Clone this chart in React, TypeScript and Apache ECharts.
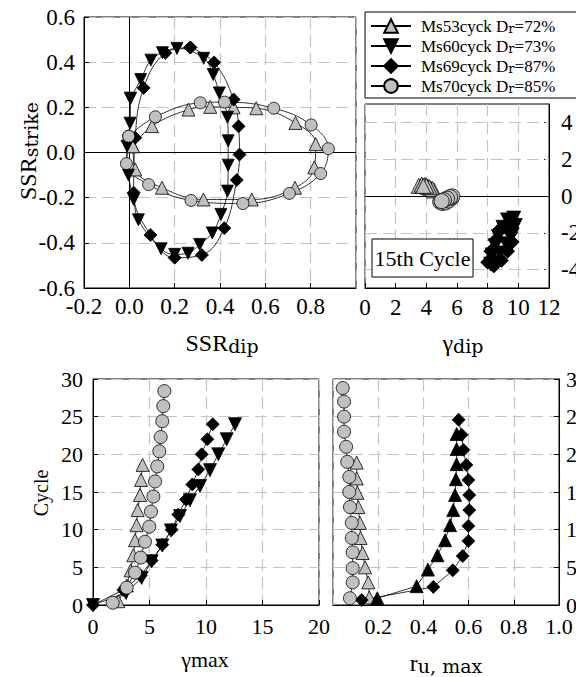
import React, { useEffect, useRef } from 'react';
import * as echarts from 'echarts';

const SERIF = 'Liberation Serif';
const SUB = 'DejaVu Serif';

// Samples and their relative densities (%)
const sampleNames = ['Ms53cyck', 'Ms60cyck', 'Ms69cyck', 'Ms70cyck'];
const relativeDensity = [72, 73, 87, 85];

// Stress ratio paths: [SSR_dip, SSR_strike]
const ssrMs53 = [[0.016, 0.028], [0.026, -0.075], [0.144, -0.156], [0.327, -0.208], [0.54, -0.208], [0.731, -0.156], [0.816, -0.066], [0.822, 0.037], [0.733, 0.131], [0.56, 0.196], [0.46, 0.2], [0.357, 0.202], [0.261, 0.19], [0.1, 0.117]];
const ssrMs60 = [[0.005, 0.24], [0.003, 0.13], [-0.01, 0.028], [-0.004, -0.1], [0.019, -0.208], [0.04, -0.298], [0.14, -0.426], [0.2, -0.451], [0.259, -0.446], [0.31, -0.407], [0.366, -0.356], [0.404, -0.274], [0.433, -0.171], [0.436, -0.056], [0.436, 0.052], [0.433, 0.156], [0.397, 0.264], [0.37, 0.345], [0.328, 0.417], [0.21, 0.461], [0.146, 0.442], [0.095, 0.409], [0.05, 0.323]];
const ssrMs69 = [[0.269, 0.465], [0.159, 0.441], [0.063, 0.286], [0.026, 0.065], [0.019, -0.178], [0.093, -0.365], [0.2, -0.466], [0.32, -0.454], [0.419, -0.335], [0.474, -0.122], [0.486, -0.009], [0.482, 0.116], [0.46, 0.235], [0.374, 0.399]];
const ssrMs70 = [[-0.003, 0.072], [-0.013, -0.049], [0.085, -0.142], [0.272, -0.212], [0.501, -0.226], [0.706, -0.181], [0.844, -0.093], [0.878, 0.017], [0.802, 0.122], [0.637, 0.196], [0.42, 0.223], [0.313, 0.22], [0.115, 0.158]];

// 15th cycle shear strains (%): [gamma_dip, gamma_strike]
const gamMs53 = [[3.5, 0.55], [3.7, 0.62], [3.9, 0.6], [4.1, 0.5], [4.3, 0.4], [4.5, 0.3], [4.4, 0.38], [4.2, 0.48], [4.0, 0.56], [3.8, 0.55]];
const gamMs60 = [[8.2, -3.7], [8.3, -3.2], [8.5, -2.7], [8.7, -2.2], [9.0, -1.7], [9.3, -1.3], [9.7, -1.2], [9.8, -1.6], [9.6, -2.1], [9.2, -2.6], [8.8, -3.1], [8.4, -3.6]];
const gamMs69 = [[8.0, -3.6], [8.4, -3.8], [8.9, -3.5], [9.3, -3.0], [9.6, -2.5], [9.5, -2.0], [9.2, -1.6], [8.8, -1.8], [8.5, -2.4], [8.2, -3.0]];
const gamMs70 = [[4.9, -0.32], [5.05, -0.38], [5.25, -0.35], [5.45, -0.25], [5.65, -0.1], [5.7, -0.02], [5.55, -0.06], [5.35, -0.14], [5.15, -0.22], [5.0, -0.28]];

// Maximum shear strain per cycle: [gamma_max, cycle]
const gmaxMs53 = [[2.24, 0.5], [3.0, 2.6], [3.33, 4.6], [3.57, 6.6], [3.72, 8.6], [3.86, 10.6], [3.95, 12.6], [4.16, 14.6], [4.25, 16.6], [4.39, 18.6]];
const gmaxMs60 = [[0, 0], [2.92, 1.6], [4.31, 3.6], [5.19, 5.8], [6.13, 7.9], [6.9, 9.9], [7.7, 11.8], [8.58, 13.9], [9.47, 15.8], [10.35, 17.9], [11.09, 20.0], [11.83, 22.0], [12.57, 24.0]];
const gmaxMs69 = [[0, 0], [2.68, 2.0], [4.22, 3.9], [5.19, 5.9], [6.13, 8.0], [6.96, 10.0], [7.55, 12.0], [8.23, 14.0], [8.79, 16.0], [9.32, 18.0], [9.62, 20.0], [10.12, 22.0], [10.6, 24.0]];
const gmaxMs70 = [[1.74, 0.3], [2.98, 2.3], [3.72, 4.3], [4.22, 6.3], [4.6, 8.4], [4.98, 10.4], [5.13, 12.4], [5.34, 14.4], [5.49, 16.4], [5.69, 18.4], [5.87, 20.4], [5.99, 22.3], [6.13, 24.4], [6.22, 26.4], [6.31, 28.4]];

// Maximum excess pore pressure ratio per cycle: [r_u,max, cycle]
const ruMs53 = [[0.161, 1.0], [0.156, 3.0], [0.142, 5.0], [0.131, 6.9], [0.122, 8.9], [0.119, 10.9], [0.112, 13.0], [0.108, 14.9], [0.105, 16.8], [0.105, 18.9]];
const ruMs60 = [[0.196, 0.9], [0.37, 2.5], [0.42, 4.7], [0.462, 6.6], [0.496, 8.6], [0.518, 10.6], [0.532, 12.6], [0.54, 14.6], [0.544, 16.7], [0.547, 18.7], [0.547, 20.7], [0.547, 22.7]];
const ruMs69 = [[0.127, 0.66], [0.444, 2.4], [0.53, 4.6], [0.574, 6.5], [0.599, 8.5], [0.599, 10.5], [0.603, 12.6], [0.603, 14.6], [0.599, 16.6], [0.59, 18.6], [0.577, 20.6], [0.569, 22.6], [0.556, 24.6]];
const ruMs70 = [[0.075, 0.9], [0.087, 3.0], [0.087, 4.9], [0.087, 7.0], [0.083, 8.9], [0.083, 10.9], [0.075, 13.0], [0.072, 15.0], [0.072, 17.0], [0.063, 19.0], [0.058, 21.0], [0.049, 23.0], [0.049, 25.0], [0.049, 27.0], [0.043, 28.8]];

// Axis tick labels
const ssrTicks = [-0.6, -0.4, -0.2, 0, 0.2, 0.4, 0.6];
const strikeTicks = [-4, -2, 0, 2, 4];

const symbols = ['triangle', 'triangle', 'diamond', 'circle'];
const rotations = [0, 180, 0, 0];
const fills = ['#c0c0c0', '#000000', '#000000', '#c0c0c0'];

type Pt = number[];

function closeLoop(pts: Pt[]): Pt[] {
  return [...pts, pts[0]];
}

function makeSeries(k: number, data: Pt[], idx: number, size: number, extra: any = {}) {
  return {
    type: 'line',
    name: sampleNames[k],
    xAxisIndex: idx,
    yAxisIndex: idx,
    data,
    symbol: symbols[k],
    symbolSize: size,
    symbolRotate: rotations[k],
    showSymbol: true,
    lineStyle: { color: '#000', width: 0.8 },
    itemStyle: { color: fills[k], borderColor: '#000', borderWidth: 0.8 },
    emphasis: { disabled: true },
    z: 10,
    ...extra,
  };
}

const gridLineStyle = { color: '#c4c4c4', type: [12, 6], width: 1.2 };

function valueAxis(gridIndex: number, min: number, max: number, interval: number, extra: any = {}) {
  const { axisLabel, axisTick, splitLine, ...rest } = extra;
  return {
    type: 'value',
    gridIndex,
    min,
    max,
    interval,
    axisLine: { show: true, onZero: false, lineStyle: { color: '#000', width: 1 } },
    axisTick: { show: true, inside: true, length: 5, lineStyle: { color: '#000', width: 1 }, ...(axisTick || {}) },
    splitLine: { show: true, lineStyle: gridLineStyle, ...(splitLine || {}) },
    axisLabel: {
      color: '#000',
      fontFamily: SERIF,
      fontSize: 22,
      textStyle: { fontFamily: SERIF },
      ...(axisLabel || {}),
    },
    ...rest,
  };
}

const richAxis = {
  m: { fontFamily: SERIF, fontSize: 24, lineHeight: 30, verticalAlign: 'bottom', fill: '#000', color: '#000' },
  s: { fontFamily: SUB, fontSize: 19, lineHeight: 18, verticalAlign: 'bottom', fill: '#000', color: '#000' },
};

const gridBase = { show: true, borderColor: '#000', borderWidth: 1, outerBoundsMode: 'none', containLabel: false };

export default function App() {
  const ref = useRef<HTMLDivElement>(null);

  useEffect(() => {
    if (!ref.current) return;
    const chart = echarts.init(ref.current, null, { renderer: 'svg' });

    const fmt1 = (v: number) => v.toFixed(1);
    const zeroLine = { color: '#000', type: 'solid', width: 1 };

    const option: any = {
      animation: false,
      backgroundColor: '#fff',
      textStyle: { fontFamily: SERIF, color: '#000' },
      grid: [
        { ...gridBase, left: 84, top: 17, width: 272, height: 271 },
        { ...gridBase, left: 365, top: 104, width: 184, height: 184 },
        { ...gridBase, left: 93, top: 379, width: 226, height: 226 },
        { ...gridBase, left: 333, top: 379, width: 226, height: 226 },
      ],
      xAxis: [
        valueAxis(0, -0.2, 1.0, 0.2, { axisLabel: { formatter: fmt1, margin: 7, fontSize: 23, showMaxLabel: false } }),
        valueAxis(1, 0, 12, 2, { axisLabel: { margin: 8, fontSize: 23 } }),
        valueAxis(2, 0, 20, 5, { axisLabel: { margin: 10 } }),
        valueAxis(3, 0, 1, 0.2, {
          axisLabel: { margin: 10, showMinLabel: false, formatter: (v: number) => (v === 0 ? '0' : v.toFixed(1)) },
        }),
      ],
      yAxis: [
        valueAxis(0, ssrTicks[0], ssrTicks[ssrTicks.length - 1], 0.2, { axisLabel: { formatter: fmt1, margin: 9, fontSize: 23 } }),
        valueAxis(1, -5, 5, 1, {
          position: 'right',
          splitLine: { show: false },
          axisTick: { customValues: strikeTicks },
          axisLabel: { customValues: strikeTicks, margin: 12, fontSize: 23 },
        }),
        valueAxis(2, 0, 30, 5, { axisLabel: { margin: 10 } }),
        valueAxis(3, 0, 30, 5, { position: 'right', axisLabel: { margin: 7 } }),
      ],
      legend: {
        data: sampleNames,
        orient: 'vertical',
        left: 365,
        top: 12,
        itemWidth: 40,
        itemHeight: 17,
        itemGap: 3,
        padding: [6, 40, 3, 5],
        backgroundColor: '#fff',
        borderColor: '#000',
        borderWidth: 1,
        borderRadius: 0,
        selectedMode: false,
        formatter: (name: string) => {
          const i = sampleNames.indexOf(name);
          return `{a|${name} D}{s|r}{m|=${relativeDensity[i]}%}`;
        },
        textStyle: {
          color: '#000',
          fontFamily: SERIF,
          fontSize: 17,
          rich: {
            a: { fontFamily: SERIF, fontSize: 17, lineHeight: 18, verticalAlign: 'bottom', padding: [0, 0, 0, 5], color: '#000' },
            m: { fontFamily: SERIF, fontSize: 17, lineHeight: 18, verticalAlign: 'bottom', color: '#000' },
            s: { fontFamily: SUB, fontSize: 13, lineHeight: 12, verticalAlign: 'bottom', color: '#000' },
          },
        },
      },
      series: [
        // reference lines through the origin of the stress ratio panel
        {
          type: 'line', xAxisIndex: 0, yAxisIndex: 0, data: [], silent: true,
          markLine: { silent: true, symbol: 'none', z: 3, label: { show: false }, lineStyle: zeroLine, data: [{ xAxis: 0 }, { yAxis: 0 }] },
        },
        // grid lines and zero line of the 15th cycle panel
        {
          type: 'line', xAxisIndex: 1, yAxisIndex: 1, data: [], silent: true,
          markLine: {
            silent: true, symbol: 'none', z: 1, label: { show: false }, lineStyle: gridLineStyle,
            data: strikeTicks.filter((v) => v !== 0).map((v) => ({ yAxis: v })),
          },
        },
        {
          type: 'line', xAxisIndex: 1, yAxisIndex: 1, data: [], silent: true,
          markLine: { silent: true, symbol: 'none', z: 3, label: { show: false }, lineStyle: zeroLine, data: [{ yAxis: 0 }] },
        },

        makeSeries(0, closeLoop(ssrMs53), 0, 13, { smooth: 0.4 }),
        makeSeries(1, closeLoop(ssrMs60), 0, 12, { smooth: 0.4 }),
        makeSeries(2, closeLoop(ssrMs69), 0, 13, { smooth: 0.4 }),
        makeSeries(3, closeLoop(ssrMs70), 0, 12, { smooth: 0.4 }),

        makeSeries(0, gamMs53, 1, 15),
        makeSeries(3, gamMs70, 1, 15),
        makeSeries(1, gamMs60, 1, 14),
        makeSeries(2, gamMs69, 1, 14),

        makeSeries(0, gmaxMs53, 2, 13),
        makeSeries(1, gmaxMs60, 2, 13),
        makeSeries(2, gmaxMs69, 2, 13),
        makeSeries(3, gmaxMs70, 2, 13),

        makeSeries(0, ruMs53, 3, 13),
        makeSeries(1, ruMs60, 3, 13, { symbolRotate: 0 }),
        makeSeries(2, ruMs69, 3, 13),
        makeSeries(3, ruMs70, 3, 13),
      ],
      graphic: [
        {
          type: 'text', x: 25, y: 151, rotation: Math.PI / 2, z: 100,
          style: { text: '{m|SSR}{s|strike}', rich: richAxis, align: 'center', verticalAlign: 'middle' },
        },
        {
          type: 'text', x: 222, y: 340, z: 100,
          style: { text: '{m|SSR}{s|dip}', rich: richAxis, align: 'center', verticalAlign: 'middle' },
        },
        {
          type: 'text', x: 463, y: 340, z: 100,
          style: { text: '{m|γ}{s|dip}', rich: richAxis, align: 'center', verticalAlign: 'middle' },
        },
        {
          type: 'text', x: 41, y: 493, rotation: Math.PI / 2, z: 100,
          style: { text: 'Cycle', fontFamily: SERIF, fontSize: 20, fill: '#000', align: 'center', verticalAlign: 'middle' },
        },
        {
          type: 'text', x: 205, y: 659, z: 100,
          style: { text: 'γmax', fontFamily: SERIF, fontSize: 22, fill: '#000', align: 'center', verticalAlign: 'middle' },
        },
        {
          type: 'text', x: 446, y: 660, z: 100,
          style: { text: '{m|r}{s|u, max}', rich: richAxis, align: 'center', verticalAlign: 'middle' },
        },
        {
          type: 'rect', z: 100,
          shape: { x: 372, y: 239, width: 101, height: 38 },
          style: { fill: '#fff', stroke: '#000', lineWidth: 1 },
        },
        {
          type: 'text', x: 422.5, y: 258, z: 101,
          style: { text: '15th Cycle', fontFamily: SERIF, fontSize: 22, fill: '#000', align: 'center', verticalAlign: 'middle' },
        },
      ],
    };

    chart.setOption(option);
    return () => chart.dispose();
  }, []);

  return (
    <div
      ref={ref}
      style={{ position: 'fixed', left: 0, top: 0, width: 576, height: 677, background: '#fff' }}
    />
  );
}
